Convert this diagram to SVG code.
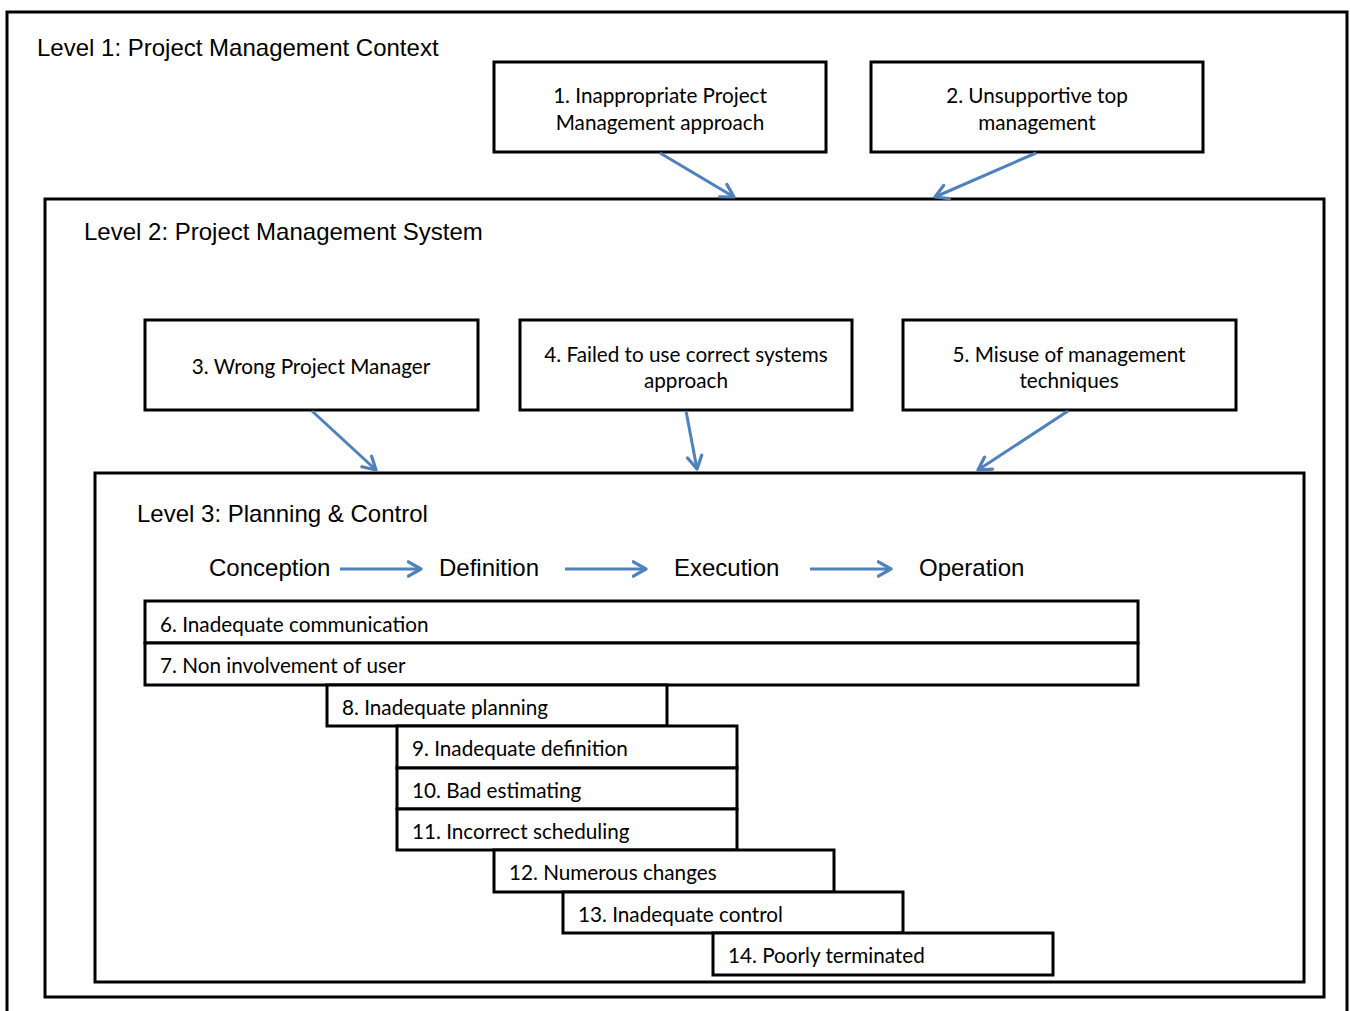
<svg xmlns="http://www.w3.org/2000/svg" width="1350" height="1011" viewBox="0 0 1350 1011">
  <style>
    .frame { fill: none; stroke: #000; stroke-width: 3; }
    .box { fill: #fff; stroke: #000; stroke-width: 3; }
    .lvl { font-family: "Liberation Sans", Arial, sans-serif; font-size: 24px; fill: #000; }
    .txt { font-family: Lato, "Noto Sans", sans-serif; font-size: 20.7px; fill: #000; }
    .mid { text-anchor: middle; }
    .conn { stroke: #4F81BD; stroke-width: 3; fill: none; marker-end: url(#arr); }
  </style>
  <defs>
    <marker id="arr" viewBox="0 0 10 10" refX="8" refY="5" markerWidth="6" markerHeight="6" markerUnits="strokeWidth" orient="auto">
      <path d="M1,1 L8,5 L1,9" fill="none" stroke="#4F81BD" stroke-width="1.8" stroke-linecap="round" stroke-linejoin="round"/>
    </marker>
  </defs>
  <rect width="1350" height="1011" fill="#fff"/>

  <!-- nested level frames -->
  <g id="level1">
    <path class="frame" d="M7,1011 V12 H1347 V1011"/>
    <text class="lvl" x="37" y="56">Level 1: Project Management Context</text>
  </g>
  <g id="level2">
    <rect class="frame" x="45" y="199" width="1279" height="798"/>
    <text class="lvl" x="84" y="240">Level 2: Project Management System</text>
  </g>
  <g id="level3">
    <rect class="frame" x="95" y="473" width="1209" height="509"/>
    <text class="lvl" x="137" y="522">Level 3: Planning &amp; Control</text>
  </g>

  <!-- project phases -->
  <g id="phases">
    <text class="lvl" x="209" y="576">Conception</text>
    <text class="lvl" x="439" y="576">Definition</text>
    <text class="lvl" x="674" y="576">Execution</text>
    <text class="lvl" x="919" y="576">Operation</text>
  </g>

  <!-- level 1 factors -->
  <g id="n1">
    <rect class="box" x="494" y="62" width="332" height="90"/>
    <text class="txt mid" x="660" y="103">1. Inappropriate Project</text>
    <text class="txt mid" x="660" y="130">Management approach</text>
  </g>
  <g id="n2">
    <rect class="box" x="871" y="62" width="332" height="90"/>
    <text class="txt mid" x="1037" y="103">2. Unsupportive top</text>
    <text class="txt mid" x="1037" y="130">management</text>
  </g>

  <!-- level 2 factors -->
  <g id="n3">
    <rect class="box" x="145" y="320" width="333" height="90"/>
    <text class="txt mid" x="311" y="374">3. Wrong Project Manager</text>
  </g>
  <g id="n4">
    <rect class="box" x="520" y="320" width="332" height="90"/>
    <text class="txt mid" x="686" y="362">4. Failed to use correct systems</text>
    <text class="txt mid" x="686" y="388">approach</text>
  </g>
  <g id="n5">
    <rect class="box" x="903" y="320" width="333" height="90"/>
    <text class="txt mid" x="1069" y="362">5. Misuse of management</text>
    <text class="txt mid" x="1069" y="388">techniques</text>
  </g>

  <!-- level 3 factors -->
  <g id="n6">
    <rect class="box" x="145" y="601" width="993" height="42"/>
    <text class="txt" x="160" y="632">6. Inadequate communication</text>
  </g>
  <g id="n7">
    <rect class="box" x="145" y="643" width="993" height="42"/>
    <text class="txt" x="160" y="673">7. Non involvement of user</text>
  </g>
  <g id="n8">
    <rect class="box" x="327" y="685" width="340" height="41"/>
    <text class="txt" x="342" y="715">8. Inadequate planning</text>
  </g>
  <g id="n9">
    <rect class="box" x="397" y="726" width="340" height="42"/>
    <text class="txt" x="412" y="756">9. Inadequate definition</text>
  </g>
  <g id="n10">
    <rect class="box" x="397" y="768" width="340" height="41"/>
    <text class="txt" x="412" y="798">10. Bad estimating</text>
  </g>
  <g id="n11">
    <rect class="box" x="397" y="809" width="340" height="41"/>
    <text class="txt" x="412" y="839">11. Incorrect scheduling</text>
  </g>
  <g id="n12">
    <rect class="box" x="494" y="850" width="340" height="42"/>
    <text class="txt" x="509" y="880">12. Numerous changes</text>
  </g>
  <g id="n13">
    <rect class="box" x="563" y="892" width="340" height="41"/>
    <text class="txt" x="578" y="922">13. Inadequate control</text>
  </g>
  <g id="n14">
    <rect class="box" x="713" y="933" width="340" height="42"/>
    <text class="txt" x="728" y="963">14. Poorly terminated</text>
  </g>

  <!-- connectors -->
  <g id="connectors">
    <line class="conn" x1="660" y1="153" x2="734" y2="197"/>
    <line class="conn" x1="1036" y1="153" x2="935" y2="197"/>
    <line class="conn" x1="312" y1="411" x2="376" y2="470"/>
    <line class="conn" x1="686" y1="411" x2="697" y2="469"/>
    <line class="conn" x1="1068" y1="411" x2="978" y2="470"/>
    <line class="conn" x1="340" y1="569" x2="421" y2="569"/>
    <line class="conn" x1="565" y1="569" x2="646" y2="569"/>
    <line class="conn" x1="810" y1="569" x2="891" y2="569"/>
  </g>
</svg>
